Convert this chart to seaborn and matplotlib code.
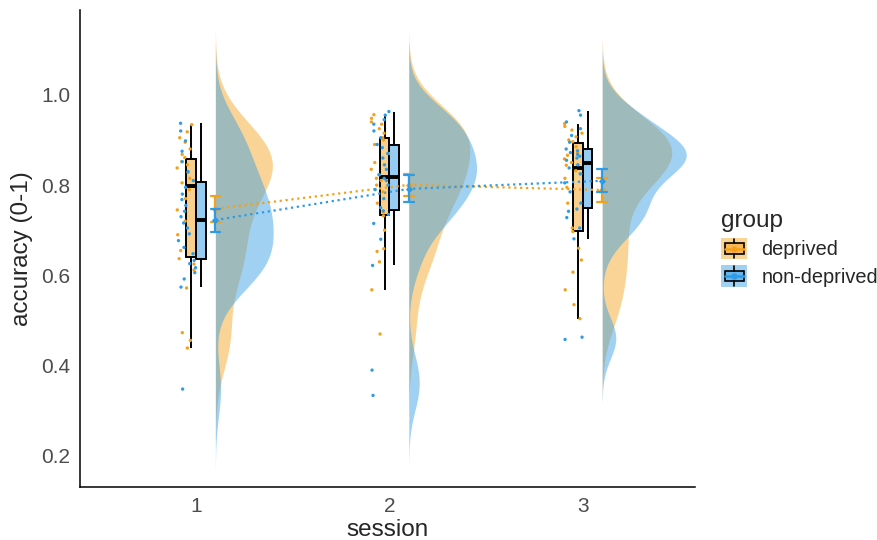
import numpy as np
import pandas as pd
import matplotlib
matplotlib.use("Agg")
import matplotlib.pyplot as plt
import seaborn as sns
from matplotlib.legend_handler import HandlerBase
from matplotlib.patches import Rectangle, Patch
from matplotlib.lines import Line2D
from matplotlib.colors import to_rgb

# ---------------- data ----------------
sessions = [1, 2, 3]
groups = ["deprived", "non-deprived"]

deprived_s1 = [0.439, 0.456, 0.473, 0.572, 0.612, 0.625, 0.637, 0.655, 0.690, 0.720,
               0.745, 0.770, 0.790, 0.805, 0.815, 0.828, 0.838, 0.845, 0.852, 0.861,
               0.868, 0.880, 0.895, 0.905, 0.918, 0.934]
deprived_s2 = [0.470, 0.568, 0.630, 0.653, 0.659, 0.700, 0.732, 0.740, 0.760, 0.785,
               0.800, 0.810, 0.815, 0.823, 0.835, 0.850, 0.870, 0.890, 0.900, 0.905,
               0.915, 0.925, 0.935, 0.940, 0.948, 0.956]
deprived_s3 = [0.504, 0.535, 0.568, 0.607, 0.634, 0.660, 0.697, 0.705, 0.760, 0.795,
               0.815, 0.825, 0.832, 0.844, 0.850, 0.858, 0.866, 0.872, 0.885, 0.896,
               0.900, 0.907, 0.915, 0.922, 0.930, 0.936]
nondeprived_s1 = [0.348, 0.574, 0.592, 0.606, 0.617, 0.626, 0.633, 0.648, 0.662, 0.677,
                  0.692, 0.705, 0.716, 0.730, 0.742, 0.755, 0.768, 0.780, 0.795, 0.810,
                  0.830, 0.852, 0.875, 0.898, 0.920, 0.937]
nondeprived_s2 = [0.334, 0.390, 0.622, 0.680, 0.715, 0.735, 0.743, 0.750, 0.770, 0.790,
                  0.800, 0.810, 0.815, 0.823, 0.835, 0.845, 0.860, 0.870, 0.883, 0.890,
                  0.905, 0.920, 0.935, 0.945, 0.955, 0.963]
nondeprived_s3 = [0.458, 0.463, 0.681, 0.705, 0.728, 0.742, 0.747, 0.760, 0.785, 0.805,
                  0.825, 0.838, 0.845, 0.855, 0.860, 0.864, 0.868, 0.872, 0.876, 0.880,
                  0.895, 0.910, 0.925, 0.940, 0.955, 0.965]

y_ticks = [0.2, 0.4, 0.6, 0.8, 1.0]
y_tick_labels = ["0.2", "0.4", "0.6", "0.8", "1.0"]
x_tick_labels = ["1", "2", "3"]

ORANGE = "#F5A01A"
BLUE = "#2E9BE6"
palette = {"deprived": ORANGE, "non-deprived": BLUE}

series = {
    "deprived": [deprived_s1, deprived_s2, deprived_s3],
    "non-deprived": [nondeprived_s1, nondeprived_s2, nondeprived_s3],
}
rows = []
for g in groups:
    for s, vals in zip(sessions, series[g]):
        for v in vals:
            rows.append({"session": s, "group": g, "accuracy": v})
df = pd.DataFrame(rows)
df["x_pts"] = df["session"] - 0.05
df["x_vio"] = df["session"] + 0.1
df["x_err"] = df["session"] + 0.1


def nrd0_factor(kde):
    """Silverman's rule of thumb (R's bw.nrd0) expressed as a kde factor."""
    x = np.asarray(kde.dataset).ravel()
    sd = x.std(ddof=1)
    q75, q25 = np.percentile(x, [75, 25])
    lo = min(sd, (q75 - q25) / 1.34)
    return 0.9 * lo * len(x) ** -0.2 / sd


# ---------------- figure ----------------
sns.set_style("white")
plt.rcParams["font.family"] = ["Liberation Sans", "DejaVu Sans"]

fig = plt.figure(figsize=(8.77, 5.40), dpi=100)
ax = fig.add_axes([80 / 877, 1 - 487 / 540, 615 / 877, 477 / 540])

# half violins (rain clouds), nudged right
for g, w in [("deprived", 0.72), ("non-deprived", 0.87)]:
    sub = df[df["group"] == g]
    sns.violinplot(data=sub, x="x_vio", y="accuracy", hue="group",
                   hue_order=["_pad", g], palette={"_pad": palette[g], g: palette[g]},
                   split=True, dodge=True, native_scale=True, inner=None,
                   cut=3, bw_method=nrd0_factor, width=w, linewidth=0,
                   saturation=1, density_norm="area", alpha=0.45, legend=False, ax=ax)

# jittered raw points
np.random.seed(3)
sns.stripplot(data=df, x="x_pts", y="accuracy", hue="group", hue_order=groups,
              palette=palette, native_scale=True, jitter=0.05, size=2.4,
              linewidth=0, dodge=False, legend=False, ax=ax)

# boxplots
n_before = len(ax.patches)
sns.boxplot(data=df, x="session", y="accuracy", hue="group", hue_order=groups,
            palette=palette, native_scale=True, width=0.1, dodge=True, saturation=1,
            showfliers=False, linecolor="black", linewidth=1.4, showcaps=False,
            medianprops={"linewidth": 2.8}, legend=False, ax=ax)
for p in ax.patches[n_before:]:
    fc = p.get_facecolor()
    p.set_facecolor((fc[0], fc[1], fc[2], 0.5))

# group means +/- se with dotted connecting line
sns.pointplot(data=df, x="x_err", y="accuracy", hue="group", hue_order=groups,
              palette=palette, native_scale=True, errorbar="se", capsize=0.05,
              markers="D", markersize=2.5, linestyle=":", linewidth=1.6,
              err_kws={"linestyle": "-", "linewidth": 1.6}, dodge=False,
              legend=False, ax=ax)

# axes styling
ax.set_xlim(0.40, 3.58)
ax.set_ylim(0.131, 1.188)
ax.set_xticks(sessions)
ax.set_xticklabels(x_tick_labels)
ax.set_yticks(y_ticks)
ax.set_yticklabels(y_tick_labels)
ax.tick_params(axis="both", labelsize=15, labelcolor="#4D4D4D", color="#333333",
               length=4, width=1, pad=3)
for side in ["top", "right"]:
    ax.spines[side].set_visible(False)
for side in ["left", "bottom"]:
    ax.spines[side].set_color("black")
    ax.spines[side].set_linewidth(1.1)
ax.set_xlabel("session", fontsize=17.5, labelpad=2)
ax.set_ylabel("accuracy (0-1)", fontsize=17.5, labelpad=6)
ax.grid(False)


# legend with raincloud-style keys
class RainKey(HandlerBase):
    def __init__(self, color):
        super().__init__()
        self.color = color

    def create_artists(self, legend, orig_handle, xdescent, ydescent, width, height,
                       fontsize, trans):
        x0, y0 = -xdescent, -ydescent
        rgb = to_rgb(self.color)
        bg = Rectangle((x0, y0), width, height, facecolor=(*rgb, 0.45),
                       edgecolor="none", transform=trans)
        box = Rectangle((x0 + width * 0.12, y0 + height * 0.27), width * 0.76,
                        height * 0.46, facecolor=(*rgb, 0.5), edgecolor="black",
                        linewidth=1.2, transform=trans)
        wt = Line2D([x0 + width / 2] * 2, [y0 + height * 0.73, y0 + height * 0.95],
                    color="black", linewidth=1.2, transform=trans)
        wb = Line2D([x0 + width / 2] * 2, [y0 + height * 0.05, y0 + height * 0.27],
                    color="black", linewidth=1.2, transform=trans)
        med = Line2D([x0 + width * 0.12, x0 + width * 0.88], [y0 + height / 2] * 2,
                     color=self.color, linewidth=1.8, transform=trans)
        dot = Line2D([x0 + width / 2], [y0 + height / 2], marker="o", markersize=3.5,
                     color=self.color, transform=trans)
        return [bg, box, wt, wb, med, dot]


h1, h2 = Patch(), Patch()
leg = fig.legend([h1, h2], groups, handler_map={h1: RainKey(ORANGE), h2: RainKey(BLUE)},
                 loc="center left", bbox_to_anchor=(0.818, 0.54), frameon=False,
                 title="group", title_fontsize=17.5, fontsize=14.4, handlelength=1.3,
                 handleheight=1.3, labelspacing=0.3, handletextpad=0.7,
                 alignment="left", borderpad=0.2, borderaxespad=0)

fig.savefig("out.png", dpi=100)
